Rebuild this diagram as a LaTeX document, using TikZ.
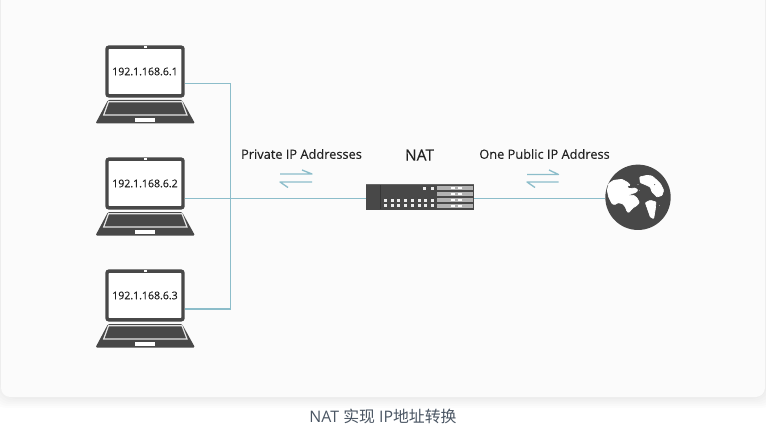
\documentclass[tikz,border=0pt]{standalone}
\usepackage{fontspec}
\setmainfont{Open Sans}
\newfontfamily\cjkfont{Noto Sans CJK SC}
\newfontfamily\semifont[FakeBold=0.35]{Open Sans}
\newfontfamily\medfont[FakeBold=0.12]{Open Sans}
\definecolor{devdark}{HTML}{484848}
\definecolor{linkblue}{HTML}{8CBDCA}
\definecolor{cardbg}{HTML}{FBFBFB}
\definecolor{captionc}{HTML}{4A5563}
\definecolor{txt}{HTML}{222222}
\tikzset{
  screenbox/.style={draw=devdark,line width=2.6pt,fill=white,rounded corners=1.5pt,minimum width=57pt,minimum height=36.5pt,inner sep=0pt,font=\semifont\fontsize{7.9pt}{9pt}\selectfont,text=txt,anchor=center},
  linkline/.style={draw=linkblue,line width=0.8pt},
  swapline/.style={draw=linkblue,line width=1pt,line join=round},
  labeltext/.style={font=\medfont\fontsize{9.6pt}{11pt}\selectfont,text=txt,inner sep=0pt},
  landmass/.style={fill=white,draw=white,line width=0.5pt,rounded corners=0.6pt},
}
\newcommand{\laptopbody}[1]{%
  \fill[devdark,rounded corners=1pt] (108,#1+55) -- (182,#1+55) -- (195,#1+78.5) -- (95.5,#1+78.5) -- cycle;
  \draw[white!90!black,line width=0.9pt,fill=devdark] (108.5,#1+56.7) -- (182,#1+56.7) -- (187,#1+70) -- (103.7,#1+70) -- cycle;
  \fill[white] (135,#1+72.7) rectangle (155,#1+76.7);
}
\begin{document}
\begin{tikzpicture}[x=0.75pt,y=-0.75pt]
\useasboundingbox (0,0) rectangle (766,438);
\fill[white] (0,0) rectangle (766,438);
% card shadow
\foreach \g in {12,10,8,6,4,2}{
  \fill[black,opacity=0.012,rounded corners=12pt] (2-\g,-20) rectangle (766+\g,397+\g*0.9);
}
\fill[cardbg,rounded corners=7pt] (1,-20) rectangle (765,397);
% laptops
\laptopbody{45}
\laptopbody{157}
\laptopbody{269}
\node[screenbox] (s1) at (145,71.5) {\raisebox{-1pt}{192.1.168.6.1}};
\node[screenbox] (s2) at (145,183.5) {\raisebox{-1pt}{192.1.168.6.2}};
\node[screenbox] (s3) at (145,295.5) {\raisebox{-1pt}{192.1.168.6.3}};
\fill[white] (144,46) rectangle (147,48);
\fill[white] (144,158) rectangle (147,160);
\fill[white] (144,270) rectangle (147,272);
% router
\node[fill=devdark,minimum width=81pt,minimum height=19pt,inner sep=0pt] (nat) at (420,197) {};
\fill[black!85,opacity=0.5] (380,185) rectangle (381,209);
\fill[black!60] (366,184) rectangle (474,185);
\foreach \y in {186,192,198,204}{
  \fill[white!70!black] (436.5,\y) rectangle (472.5,\y+4.2);
  \fill[white] (450.5,\y+0.8) rectangle (454.5,\y+3.2);
  \fill[white] (458,\y+0.8) rectangle (462,\y+3.2);
}
\foreach \x in {423,430.5}{\fill[white!92!black] (\x,187) rectangle (\x+3.4,190);}
\foreach \x in {383.5,390.5,397,404,410.5,417.5,424,431}{
  \fill[white!92!black] (\x,199.5) rectangle (\x+3.2,202.3);
  \fill[white!92!black] (\x,204) rectangle (\x+3.2,206.8);
}
% globe
\node[circle,fill=devdark,minimum size=49pt,inner sep=0pt] (globe) at (638,197.3) {};
\begin{scope}[shift={(602,162)},x=0.25pt,y=-0.25pt]
\path[landmass] (20,65)--(35,55)--(60,52)--(78,62)--(85,70)--(75,72)--(80,80)--(100,78)--(108,85)--(100,92)--(88,95)--(78,100)--(95,100)--(105,108)--(112,122)--(105,130)--(92,138)--(80,152)--(75,148)--(70,135)--(62,125)--(48,122)--(38,128)--(30,125)--(20,105)--(16,85)--cycle;
\path[landmass] (113,45)--(135,40)--(150,42)--(165,55)--(175,65)--(185,85)--(180,100)--(165,105)--(150,90)--(145,75)--(130,68)--(115,62)--cycle;
\path[landmass] (130,122)--(145,115)--(162,120)--(160,140)--(155,170)--(145,165)--(138,145)--cycle;
\fill[devdark] (158,68) circle (1.6);
\fill[white] (108,68) circle (1.3);
\fill[white] (172,130) circle (1);
\fill[white] (112,85) circle (0.8);
\end{scope}
% connectors
\coordinate (c1) at (s1.east |- 0,83.5);
\coordinate (c3) at (s3.east |- 0,309);
\coordinate (c2) at (s2.east |- 0,198.5);
\coordinate (n1) at (nat.west |- 0,198.5);
\coordinate (n2) at (nat.east |- 0,198.5);
\coordinate (g1) at (globe.west |- 0,198.5);
\draw[linkline] (c1) -- (230.5,83.5) -- (230.5,309) -- (c3);
\draw[linkline] (c2) -- (n1);
\draw[linkline] (n2) -- (g1);
% swap arrows
\draw[swapline] (280,174) -- (312,174) -- (302,170);
\draw[swapline] (312,182) -- (280,182) -- (288,187.5);
\draw[swapline] (527,174.5) -- (558.5,174.5) -- (549,170);
\draw[swapline] (558.5,182) -- (527,182) -- (535,187.5);
% labels
\node[labeltext] (lpriv) at (301.5,154) {Private IP Addresses};
\node[labeltext,font=\medfont\fontsize{11.6pt}{13pt}\selectfont] (lnat) at (419.5,155) {NAT};
\node[labeltext] (lpub) at (544.5,154) {One Public IP Address};
\node[inner sep=0pt,text=captionc,font=\fontsize{11.9pt}{13pt}\selectfont] (cap) at (383,416) {NAT {\cjkfont 实现} IP{\cjkfont 地址转换}};
\end{tikzpicture}
\end{document}
